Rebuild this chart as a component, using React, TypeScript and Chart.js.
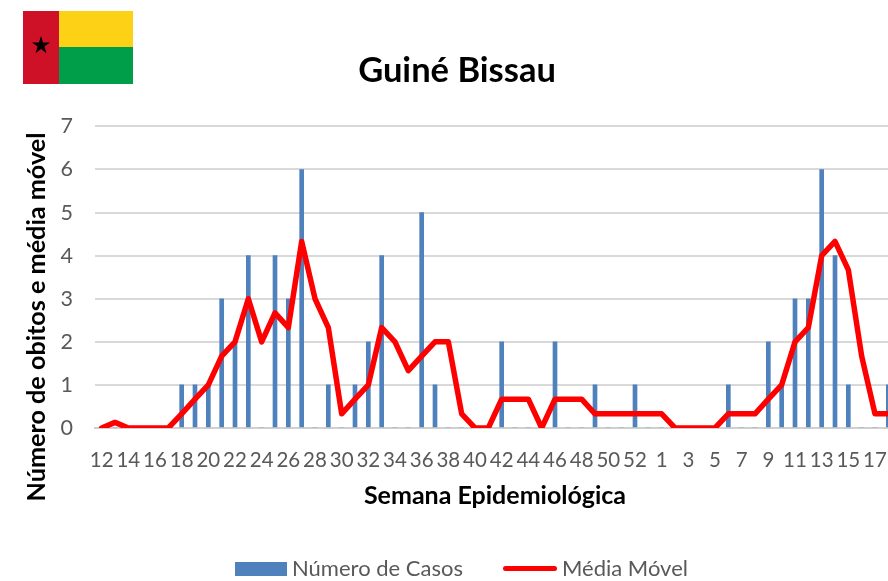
import React, { useEffect, useRef } from "react";
import { Chart, registerables } from "chart.js";

Chart.register(...registerables);

const FONT = "Lato, Carlito, Calibri, sans-serif";
const TEXT_GREY = "#595959";

const weeks: string[] = [
  "12","13","14","15","16","17","18","19","20","21","22","23","24","25","26","27","28","29","30","31",
  "32","33","34","35","36","37","38","39","40","41","42","43","44","45","46","47","48","49","50","51",
  "52","53","1","2","3","4","5","6","7","8","9","10","11","12","13","14","15","16","17","18",
];

const casos: number[] = [
  0,0,0,0,0,0,1,1,1,3,2,4,0,4,3,6,0,1,0,1,
  2,4,0,0,5,1,0,0,0,0,2,0,0,0,2,0,0,1,0,0,
  1,0,0,0,0,0,0,1,0,0,2,1,3,3,6,4,1,0,0,1,
];

const mediaMovel: number[] = [
  0,0.13,0,0,0,0,0.33,0.67,1,1.67,2,3,2,2.67,2.33,4.33,3,2.33,0.33,0.67,
  1,2.33,2,1.33,1.67,2,2,0.33,0,0,0.67,0.67,0.67,0,0.67,0.67,0.67,0.33,0.33,0.33,
  0.33,0.33,0.33,0,0,0,0,0.33,0.33,0.33,0.67,1,2,2.33,4,4.33,3.67,1.67,0.33,0.33,
];

const TITLE = "Guiné Bissau";
const X_TITLE = "Semana Epidemiológica";
const Y_TITLE = "Número de obitos e média móvel";
const SERIES_BARS = "Número de Casos";
const SERIES_LINE = "Média Móvel";

const yTitlePlugin = {
  id: "yTitle",
  afterDraw(chart: any) {
    const ctx = chart.ctx;
    ctx.save();
    ctx.translate(37, 317);
    ctx.rotate(-Math.PI / 2);
    ctx.font = `bold 25.2px ${FONT}`;
    ctx.fillStyle = "#000000";
    ctx.textAlign = "center";
    ctx.textBaseline = "middle";
    ctx.fillText(Y_TITLE, 0, 0);
    ctx.restore();
  },
};

export default function App() {
  const ref = useRef<HTMLCanvasElement | null>(null);

  useEffect(() => {
    document.body.style.margin = "0";
    const chart = new Chart(ref.current as HTMLCanvasElement, {
      type: "bar",
      data: {
        labels: weeks,
        datasets: [
          {
            type: "line",
            label: SERIES_LINE,
            data: mediaMovel,
            borderColor: "#ff0000",
            backgroundColor: "#ff0000",
            borderWidth: 5.5,
            pointRadius: 0,
            tension: 0,
            borderJoinStyle: "round",
            borderCapStyle: "round",
            clip: 0,
            order: 0,
          },
          {
            type: "bar",
            label: SERIES_BARS,
            data: casos,
            backgroundColor: "#4f81bd",
            barThickness: 4,
            order: 1,
          },
        ],
      } as any,
      options: {
        responsive: false,
        animation: false,
        layout: { padding: { left: 19, right: 19, top: 0, bottom: 70 } },
        plugins: {
          legend: { display: false },
          tooltip: { enabled: false },
          title: {
            display: true,
            text: TITLE,
            color: "#000000",
            font: { family: FONT, size: 34.5, weight: "bold" },
            padding: { top: 50, bottom: 35 },
          },
        },
        scales: {
          x: {
            grid: { display: false },
            border: { display: true, color: "#d0d0d0", width: 2 },
            ticks: {
              autoSkip: false,
              maxRotation: 0,
              minRotation: 0,
              padding: 12,
              color: TEXT_GREY,
              font: { family: FONT, size: 20.5 },
              callback(this: any, _v: any, i: number) {
                return i % 2 === 0 ? weeks[i] : "";
              },
            },
            title: {
              display: true,
              text: X_TITLE,
              color: "#000000",
              font: { family: FONT, size: 25, weight: "bold" },
              padding: 0,
            },
            afterFit(s: any) {
              s.height = 83;
              s.paddingLeft = 0;
              s.paddingRight = 0;
            },
          },
          y: {
            min: 0,
            max: 7,
            grid: { color: "#d9d9d9", lineWidth: 2, drawTicks: false },
            border: { display: false },
            ticks: {
              stepSize: 1,
              padding: 22,
              color: TEXT_GREY,
              font: { family: FONT, size: 21.5 },
            },
            afterFit(s: any) {
              s.width = 76;
            },
          },
        },
      },
      plugins: [yTitlePlugin],
    } as any);
    return () => chart.destroy();
  }, []);

  return (
    <div style={{ position: "relative", width: 888, height: 581, overflow: "hidden", background: "#fff" }}>
      <canvas ref={ref} width={914} height={581} style={{ position: "absolute", left: 0, top: 0 }} />
      <svg width={110} height={73} viewBox="0 0 110 73" style={{ position: "absolute", left: 23, top: 11 }}>
        <rect x={0} y={0} width={36} height={73} fill="#ce1126" />
        <rect x={36} y={0} width={74} height={36} fill="#fcd116" />
        <rect x={36} y={36} width={74} height={37} fill="#009e49" />
        <polygon
          fill="#000"
          points="18,25 20.1,31.6 27,31.6 21.4,35.6 23.5,42.2 18,38.1 12.5,42.2 14.6,35.6 9,31.6 15.9,31.6"
        />
      </svg>
      <div style={{ position: "absolute", left: 235, top: 562, width: 52, height: 14, background: "#4f81bd" }} />
      <span style={{ position: "absolute", left: 292, top: 554, font: `22px ${FONT}`, color: TEXT_GREY, whiteSpace: "nowrap" }}>
        {SERIES_BARS}
      </span>
      <div style={{ position: "absolute", left: 503, top: 566, width: 54, height: 5, borderRadius: 3, background: "#ff0000" }} />
      <span style={{ position: "absolute", left: 562, top: 554, font: `22px ${FONT}`, color: TEXT_GREY, whiteSpace: "nowrap" }}>
        {SERIES_LINE}
      </span>
    </div>
  );
}
